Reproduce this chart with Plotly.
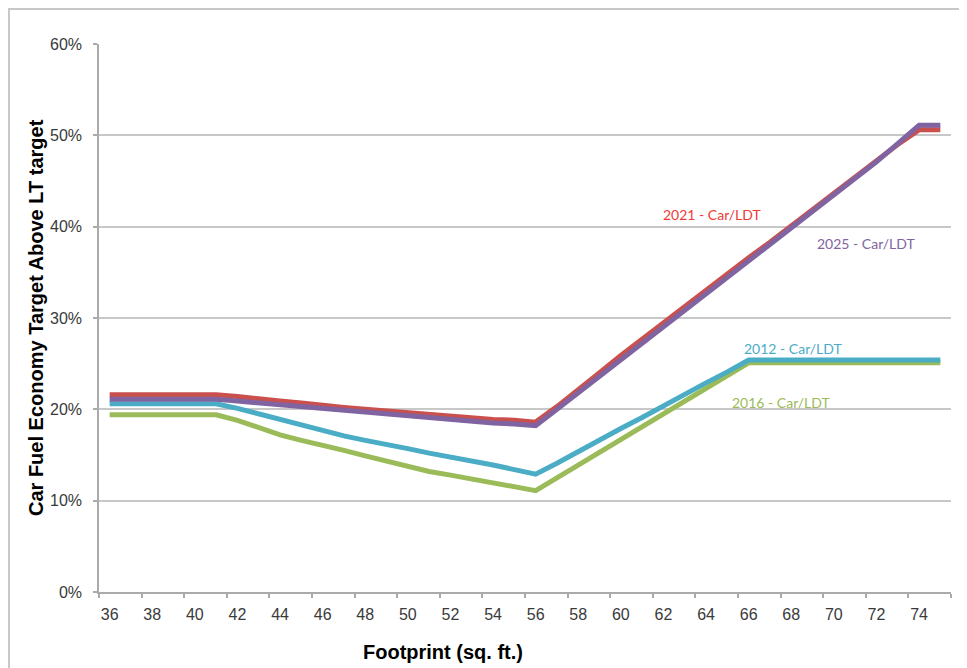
import plotly.graph_objects as go

# Footprint categories (sq. ft.)
footprint = list(range(36, 76))

# Car fuel economy target above LT target (%)
y2021 = [21.6, 21.6, 21.6, 21.6, 21.6, 21.6, 21.4, 21.1, 20.9, 20.7,
         20.4, 20.2, 20.0, 19.8, 19.6, 19.4, 19.3, 19.1, 18.9, 18.8,
         18.6, 20.3, 22.1, 24.0, 25.9, 27.7, 29.5, 31.2, 33.0, 34.8,
         36.6, 38.3, 40.1, 41.9, 43.7, 45.5, 47.3, 49.0, 50.6, 50.6]
y2025 = [21.1, 21.1, 21.1, 21.1, 21.1, 21.1, 20.9, 20.7, 20.5, 20.3,
         20.0, 19.8, 19.6, 19.4, 19.2, 19.0, 18.8, 18.7, 18.5, 18.4,
         18.2, 20.0, 21.8, 23.7, 25.5, 27.3, 29.1, 30.9, 32.7, 34.5,
         36.3, 38.1, 39.9, 41.7, 43.5, 45.3, 47.1, 49.1, 51.1, 51.1]
y2012 = [20.6, 20.6, 20.6, 20.6, 20.6, 20.6, 20.1, 19.5, 18.8, 18.2,
         17.7, 17.1, 16.6, 16.2, 15.7, 15.2, 14.8, 14.3, 13.9, 13.4,
         12.9, 14.1, 15.4, 16.6, 17.9, 19.1, 20.4, 21.6, 22.9, 24.1,
         25.4, 25.4, 25.4, 25.4, 25.4, 25.4, 25.4, 25.4, 25.4, 25.4]
y2016 = [19.4, 19.4, 19.4, 19.4, 19.4, 19.4, 18.8, 18.0, 17.2, 16.6,
         16.1, 15.5, 14.9, 14.3, 13.7, 13.2, 12.8, 12.4, 11.9, 11.6,
         11.1, 12.5, 13.9, 15.3, 16.7, 18.1, 19.5, 20.9, 22.3, 23.7,
         25.1, 25.1, 25.1, 25.1, 25.1, 25.1, 25.1, 25.1, 25.1, 25.1]

series_names = ["2016 - Car/LDT", "2012 - Car/LDT", "2021 - Car/LDT", "2025 - Car/LDT"]
series_values = [y2016, y2012, y2021, y2025]
line_colors = ["#9BBB59", "#4BACC6", "#C9504D", "#8064A2"]

x_ticks = list(range(36, 76, 2))
y_ticks = [0, 10, 20, 30, 40, 50, 60]
y_tick_labels = [f"{v}%" for v in y_ticks]

# Inline label positions (data coords) and text colours
label_names = ["2021 - Car/LDT", "2025 - Car/LDT", "2012 - Car/LDT", "2016 - Car/LDT"]
label_x = [64.3, 71.5, 68.1, 67.5]
label_y = [41.3, 38.2, 26.7, 20.7]
label_colors = ["#EE3B36", "#8064A2", "#4BACC6", "#9BBB59"]

fig = go.Figure()
for name, vals, col in zip(series_names, series_values, line_colors):
    fig.add_trace(go.Scatter(x=footprint, y=vals, mode="lines", name=name,
                             line=dict(color=col, width=5), showlegend=False))

for t, lx, ly, c in zip(label_names, label_x, label_y, label_colors):
    fig.add_annotation(x=lx, y=ly, text=t, showarrow=False,
                       font=dict(family="Lato, Open Sans, sans-serif", size=14, color=c))

axis_font = dict(family="Liberation Sans, Arial, sans-serif", size=16, color="#3a3a3a")

fig.update_xaxes(range=[35.5, 75.5], tickvals=x_ticks, ticktext=[str(v) for v in x_ticks],
                 ticks="", showgrid=False, zeroline=False,
                 showline=True, linecolor="#AAAAAA", linewidth=1.5,
                 tickfont=axis_font, ticklabelstandoff=7,
                 minor=dict(ticks="outside", tick0=35.5, dtick=2, ticklen=4,
                            tickcolor="#AAAAAA", tickwidth=1.5, showgrid=False))
fig.update_yaxes(range=[0, 60], tickvals=y_ticks, ticktext=y_tick_labels,
                 ticks="outside", ticklen=4, tickcolor="#AAAAAA", tickwidth=1.5,
                 showgrid=True, gridcolor="#C8C8C8", gridwidth=1.5, zeroline=False,
                 showline=True, linecolor="#AAAAAA", linewidth=1.5,
                 tickfont=axis_font, ticklabelstandoff=8)

title_font = dict(family="Liberation Sans, Arial, sans-serif", size=20, color="#000000")
fig.add_annotation(xref="paper", yref="paper", x=(443 - 99) / 852, y=(592 - 652) / 548,
                   text="<b>Footprint (sq. ft.)</b>", showarrow=False,
                   xanchor="center", yanchor="middle", font=title_font)
fig.add_annotation(xref="paper", yref="paper", x=(36 - 99) / 852, y=0.5,
                   text="<b>Car Fuel Economy Target Above LT target</b>", showarrow=False,
                   textangle=-90, xanchor="center", yanchor="middle", font=title_font)

# chart area border (left and top edges visible)
fig.add_shape(type="rect", xref="paper", yref="paper",
              x0=(9 - 99) / 852, x1=1.2, y0=-0.3, y1=(592 - 9) / 548,
              line=dict(color="#C8C8C8", width=2), fillcolor="rgba(0,0,0,0)", layer="below")

# page body adds an 8px offset; margins compensate so the plot sits where the reference's does
fig.update_layout(width=967, height=668, margin=dict(l=91, r=24, t=36, b=84),
                  plot_bgcolor="white", paper_bgcolor="white")

fig.write_html("out.html")
